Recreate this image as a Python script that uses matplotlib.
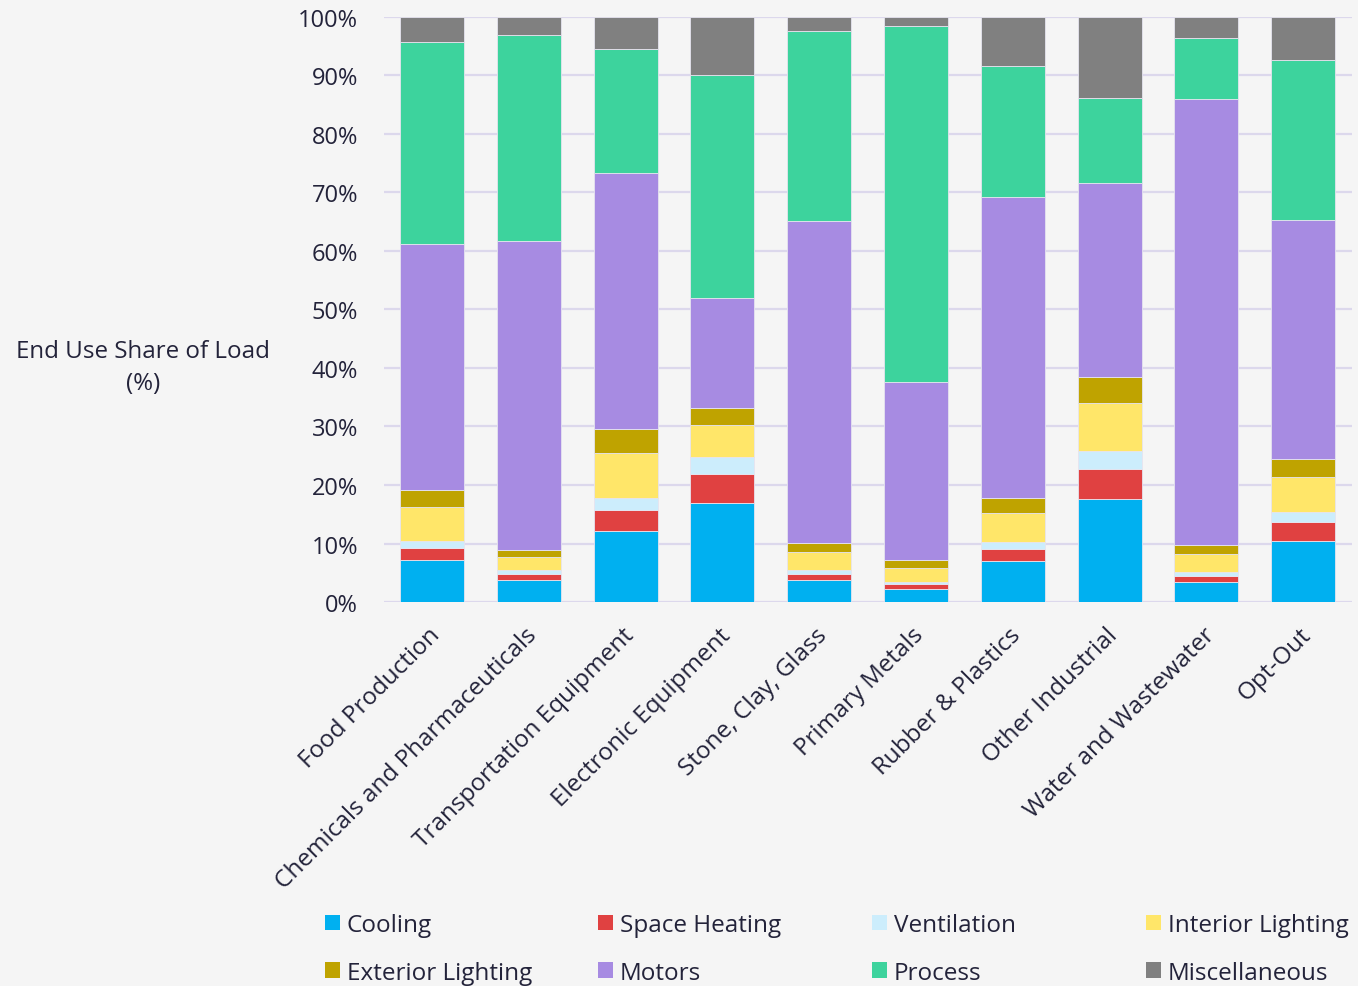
import matplotlib
matplotlib.use("Agg")
import matplotlib.pyplot as plt
import numpy as np
from matplotlib.ticker import PercentFormatter
from matplotlib.patches import Patch
from matplotlib.transforms import ScaledTranslation

categories = ["Food Production", "Chemicals and Pharmaceuticals", "Transportation Equipment",
              "Electronic Equipment", "Stone, Clay, Glass", "Primary Metals",
              "Rubber & Plastics", "Other Industrial", "Water and Wastewater", "Opt-Out"]

series_names = ["Cooling", "Space Heating", "Ventilation", "Interior Lighting",
                "Exterior Lighting", "Motors", "Process", "Miscellaneous"]

cooling           = [7.1, 3.7, 12.2, 16.9, 3.7, 2.3, 7.0, 17.6, 3.4, 10.5]
space_heating     = [2.1, 1.1, 3.6, 5.0, 1.1, 0.7, 2.1, 5.2, 1.0, 3.1]
ventilation       = [1.3, 0.6, 2.0, 2.9, 0.6, 0.4, 1.1, 3.0, 0.7, 1.7]
interior_lighting = [5.7, 2.3, 7.7, 5.5, 3.1, 2.4, 5.0, 8.2, 3.1, 6.0]
exterior_lighting = [3.0, 1.2, 4.0, 2.9, 1.6, 1.3, 2.5, 4.4, 1.6, 3.1]
motors            = [41.9, 52.8, 43.7, 18.7, 54.9, 30.5, 51.4, 33.1, 76.2, 40.8]
process           = [34.5, 35.2, 21.3, 38.1, 32.6, 60.8, 22.5, 14.6, 10.4, 27.3]
miscellaneous     = [4.4, 3.1, 5.5, 10.0, 2.4, 1.6, 8.4, 13.9, 3.6, 7.5]

yticks = [0, 10, 20, 30, 40, 50, 60, 70, 80, 90, 100]

colors = ["#00b0f0", "#e04141", "#ccedfc", "#ffe669", "#bfa300", "#a78be2", "#3dd39d", "#808080"]

series = [cooling, space_heating, ventilation, interior_lighting,
          exterior_lighting, motors, process, miscellaneous]

text_color = "#23233a"
plt.rcParams['font.family'] = ['Open Sans', 'DejaVu Sans']

fig = plt.figure(figsize=(13.58, 9.87), dpi=100)
fig.patch.set_facecolor("#f5f5f5")
ax = fig.add_axes([0.2825, 0.389, 0.7128, 0.5932])
ax.set_facecolor("#f5f5f5")

x = np.arange(len(categories))
bottom = np.zeros(len(categories))
handles = []
for name, vals, c in zip(series_names, series, colors):
    vals = np.array(vals, dtype=float)
    ax.bar(x, vals, bottom=bottom, width=0.66, color=c, edgecolor="#e6e4ef",
           linewidth=0.6, zorder=3)
    bottom += vals
    handles.append(Patch(facecolor=c, edgecolor='none', label=name))

ax.set_xlim(-0.5, len(categories) - 0.5)
ax.set_ylim(0, 100)
ax.set_yticks(yticks)
ax.yaxis.set_major_formatter(PercentFormatter(decimals=0))
ax.grid(axis='y', color="#dcd8ec", linewidth=1.6, zorder=0)
ax.set_axisbelow(True)
for s in ax.spines.values():
    s.set_visible(False)
ax.tick_params(axis='both', length=0, labelsize=17, colors=text_color)
ax.tick_params(axis='y', pad=18.5)
ax.tick_params(axis='x', pad=15, labelsize=17.5)
ax.set_xticks(x)
ax.set_xticklabels(categories, rotation=45, ha='right', rotation_mode='anchor')
shift = ScaledTranslation(-4 / 100, 0, fig.dpi_scale_trans)
for lbl in ax.get_xticklabels():
    lbl.set_transform(lbl.get_transform() + shift)

fig.text(143 / 1358, 1 - 368 / 987, "End Use Share of Load\n(%)", ha='center', va='center',
         fontsize=17.4, color=text_color, linespacing=1.45)

col_x = [325, 598, 872, 1146]
for j in range(4):
    fig.legend(handles=[handles[j], handles[j + 4]], loc='upper left',
               bbox_to_anchor=(col_x[j] / 1358, 1 - 914 / 987),
               frameon=False, fontsize=17.5, handlelength=0.6, handleheight=0.6,
               handletextpad=0.3, labelspacing=0.97, borderpad=0, borderaxespad=0,
               labelcolor=text_color)

fig.savefig("out.png", dpi=100, facecolor=fig.get_facecolor())
